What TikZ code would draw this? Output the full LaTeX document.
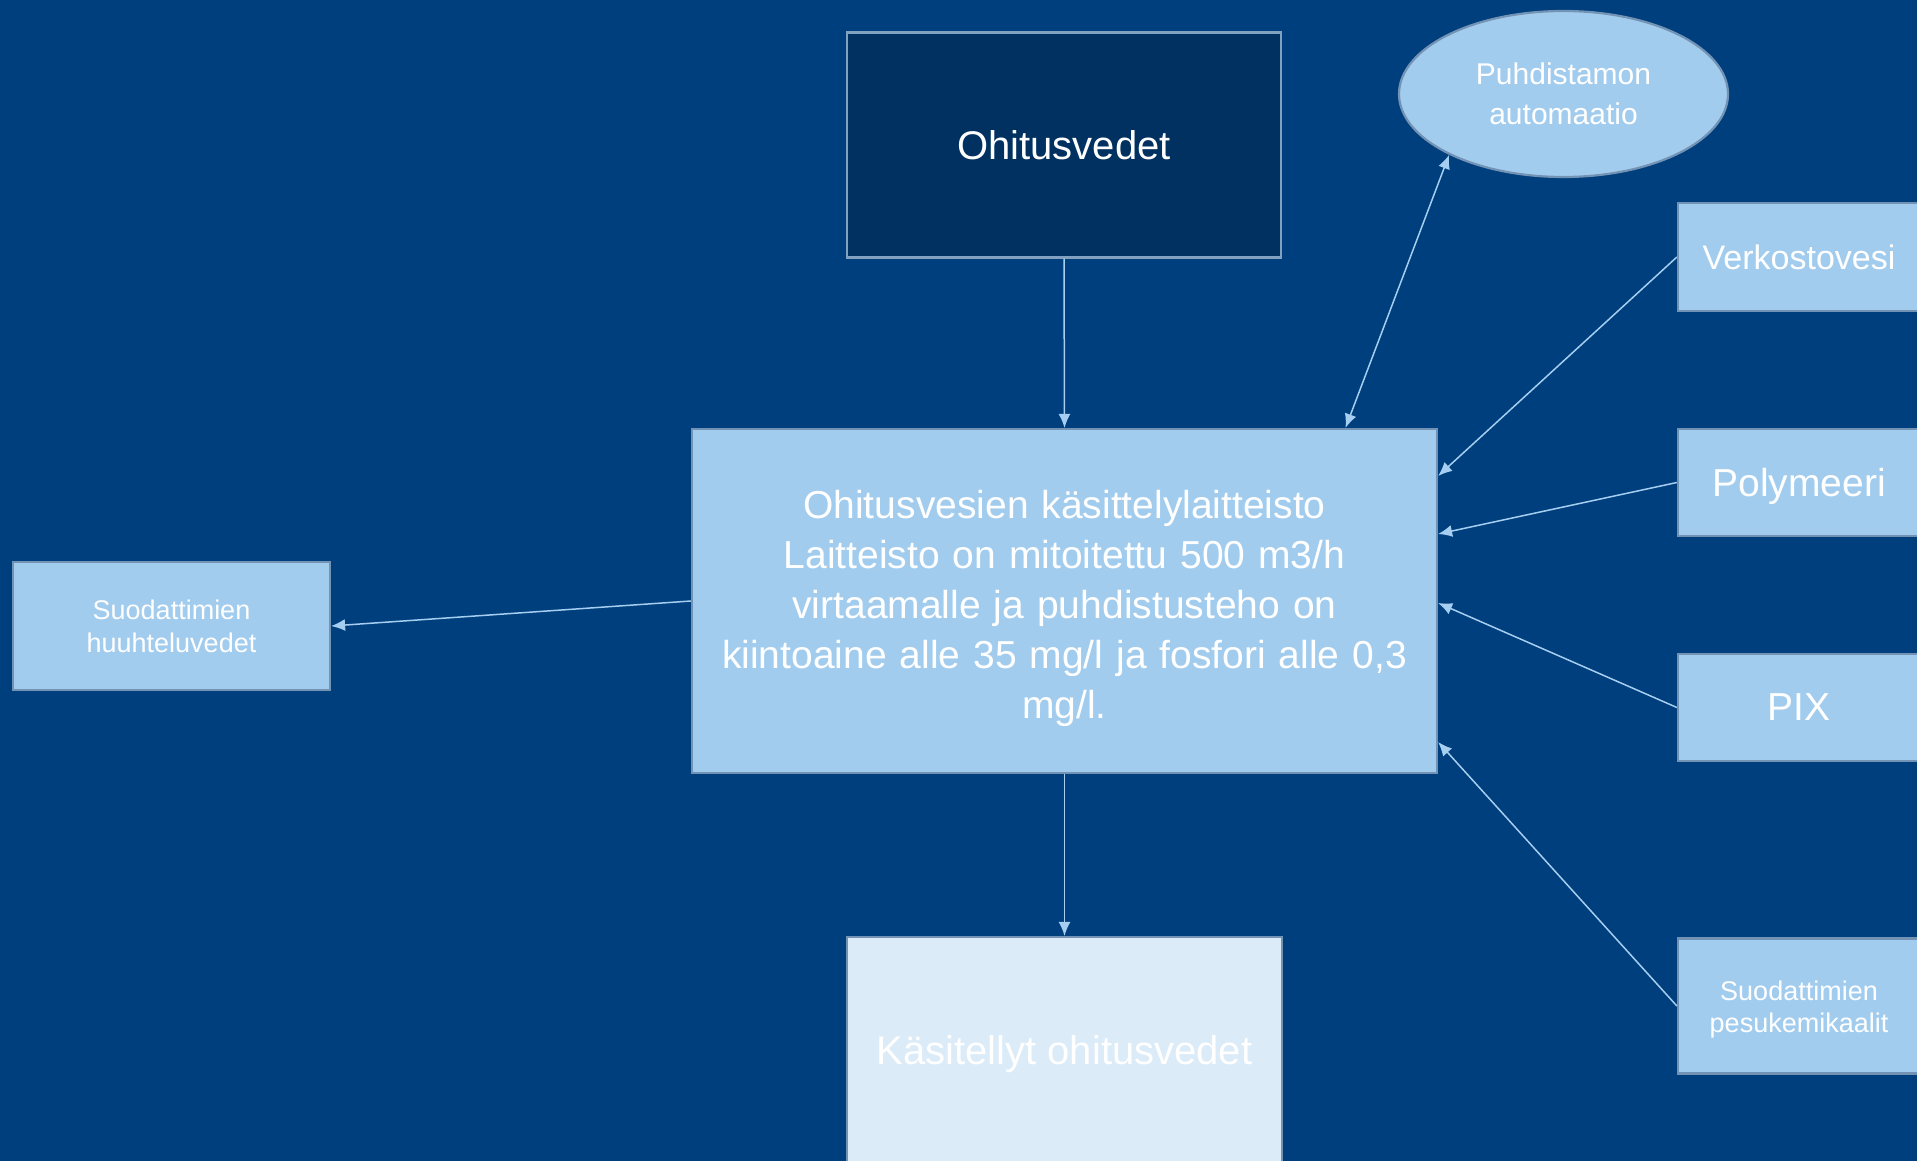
\documentclass[tikz,border=0pt]{standalone}
\usepackage{fontspec}
\setmainfont{Liberation Sans}
\usetikzlibrary{arrows.meta,shapes.geometric,calc}
\definecolor{bgblue}{RGB}{0,63,125}
\definecolor{navybox}{RGB}{0,49,96}
\definecolor{lightbox}{RGB}{162,204,238}
\definecolor{paleBox}{RGB}{219,235,248}
\definecolor{edgegray}{RGB}{115,147,180}
\definecolor{edgelight}{RGB}{130,160,192}
\definecolor{arrowblue}{RGB}{166,206,240}
\tikzset{
  boxbase/.style={rectangle, draw=edgegray, line width=2.2pt, inner sep=0pt, align=center, text=white, anchor=center},
  lightnode/.style={boxbase, fill=lightbox},
  conn/.style={draw=arrowblue, line width=1.5pt, -{Latex[length=14pt,width=12pt]}},
  conn2/.style={draw=arrowblue, line width=1.5pt, {Latex[length=14pt,width=12pt]}-{Latex[length=14pt,width=12pt]}},
}
\begin{document}
\begin{tikzpicture}[x=1pt,y=-1pt]
\fill[bgblue] (0,0) rectangle (1917,1161);
\useasboundingbox (0,0) rectangle (1917,1161);

\node[boxbase, fill=navybox, draw=edgelight, minimum width=434pt, minimum height=225pt,
  font=\fontsize{40}{48}\selectfont] (ohit) at (1064,145) {Ohitusvedet};

\node[lightnode, minimum width=745pt, minimum height=344pt, text width=730pt,
  font=\fontsize{39}{50}\selectfont] (main) at (1064.5,601)
  {\rule{0pt}{44pt}Ohitusvesien käsittelylaitteisto\\Laitteisto on mitoitettu 500 m3/h\\virtaamalle ja puhdistusteho on\\kiintoaine alle 35 mg/l ja fosfori alle 0,3\\mg/l.};

\node[lightnode, minimum width=317pt, minimum height=128pt,
  font=\fontsize{27}{33}\selectfont] (huuh) at (171.5,626) {Suodattimien\\huuhteluvedet};

\node[ellipse, draw=edgegray, line width=2.2pt, fill=lightbox, text=white, align=center, inner sep=0pt,
  minimum width=329pt, minimum height=166pt, font=\fontsize{30}{40}\selectfont] (ell) at (1563.5,94)
  {Puhdistamon\\automaatio};

\node[lightnode, minimum width=242pt, minimum height=108pt,
  font=\fontsize{34}{40}\selectfont] (verk) at (1799,257) {Verkostovesi};
\node[lightnode, minimum width=242pt, minimum height=107pt, text depth=0pt,
  font=\fontsize{39}{45}\selectfont] (poly) at (1799,482.5) {Polymeeri};
\node[lightnode, minimum width=242pt, minimum height=107pt,
  font=\fontsize{39}{45}\selectfont] (pix) at (1799,707.5) {PIX};
\node[lightnode, minimum width=242pt, minimum height=135pt,
  font=\fontsize{27}{32}\selectfont] (pesu) at (1799,1006) {\rule{0pt}{26pt}Suodattimien\\pesukemikaalit};

\node[boxbase, fill=paleBox, minimum width=435pt, minimum height=226pt, text depth=0pt,
  font=\fontsize{40}{48}\selectfont] (kas) at (1064.5,1050) {Käsitellyt ohitusvedet};

\draw[conn] (ohit.south) -- (main.north);
\draw[conn2] ($(main.north)+(281,0)$) -- (ell.208);
\draw[conn] (verk.west) -- ($(main.east)+(0,-125)$);
\draw[conn] (poly.west) -- ($(main.east)+(0,-67)$);
\draw[conn] (pix.west) -- ($(main.east)+(0,2)$);
\draw[conn] (pesu.west) -- ($(main.east)+(0,141)$);
\draw[conn] (main.west) -- (huuh.east);
\draw[conn] (main.south) -- (kas.north);
\end{tikzpicture}
\end{document}
